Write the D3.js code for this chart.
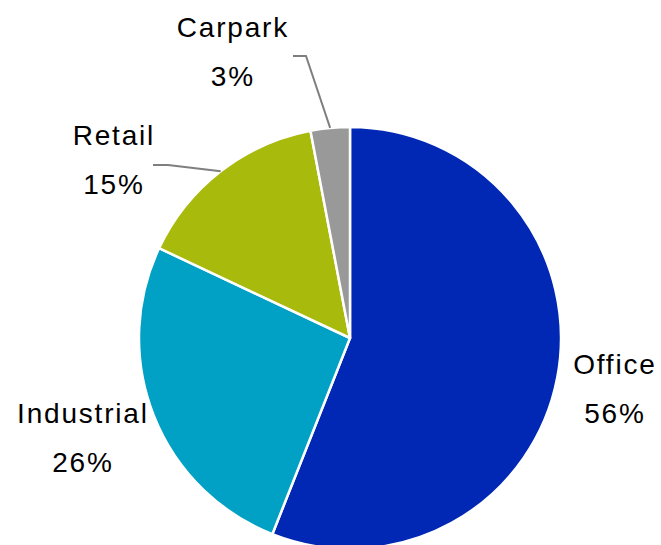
<!DOCTYPE html>
<html>
<head>
<meta charset="utf-8">
<script src="https://cdn.jsdelivr.net/npm/d3@7"></script>
<style>
  html, body { margin: 0; padding: 0; background: #fff; }
  svg { display: block; }
  text { font-family: "Liberation Sans", Arial, sans-serif; font-size: 28px; fill: #000; letter-spacing: 1.8px; }
</style>
</head>
<body>
<svg id="chart" width="661" height="545"></svg>
<script>
// Portfolio split by sector (percent)
const categories = ["Office", "Industrial", "Retail", "Carpark"];
const values = [56, 26, 15, 3];
const colors = ["#0028B4", "#00A1C4", "#A8BA0B", "#999999"];

// Label anchor points (label centre x, first-line baseline y) and leader elbows
const labelPos = [[614, 374], [82, 423], [113, 145], [232, 37]];
const leaderElbow = [null, null, [[153, 165], [168, 165]], [[293, 56], [306, 56]]];

const cx = 350, cy = 338, R = 211;
const spacing = 1.8;

const svg = d3.select("#chart");
const g = svg.append("g").attr("transform", `translate(${cx},${cy})`);

const pie = d3.pie().sort(null).value(d => d.value);
const arcs = pie(categories.map((c, i) => ({ name: c, value: values[i], color: colors[i] })));
const arc = d3.arc().innerRadius(0).outerRadius(R);

g.selectAll("path.slice")
  .data(arcs)
  .join("path")
  .attr("class", "slice")
  .attr("d", arc)
  .attr("fill", d => d.data.color)
  .attr("stroke", "#fff")
  .attr("stroke-width", 2.5)
  .attr("stroke-linejoin", "round");

// Leader lines for the small slices
arcs.forEach((d, i) => {
  if (!leaderElbow[i]) return;
  const mid = (d.startAngle + d.endAngle) / 2;
  const edge = [cx + R * Math.sin(mid), cy - R * Math.cos(mid)];
  const pts = [...leaderElbow[i], edge];
  svg.append("path")
    .attr("d", d3.line()(pts))
    .attr("fill", "none")
    .attr("stroke", "#7F7F7F")
    .attr("stroke-width", 2);
});

// Category name and percentage labels (x nudged for the trailing letter-spacing)
arcs.forEach((d, i) => {
  const [x, y] = labelPos[i];
  const t = svg.append("text").attr("text-anchor", "middle");
  t.append("tspan").attr("x", x + spacing / 2).attr("y", y).text(d.data.name);
  t.append("tspan").attr("x", x + spacing / 2).attr("y", y + 49).text(d.data.value + "%");
});
</script>
</body>
</html>
